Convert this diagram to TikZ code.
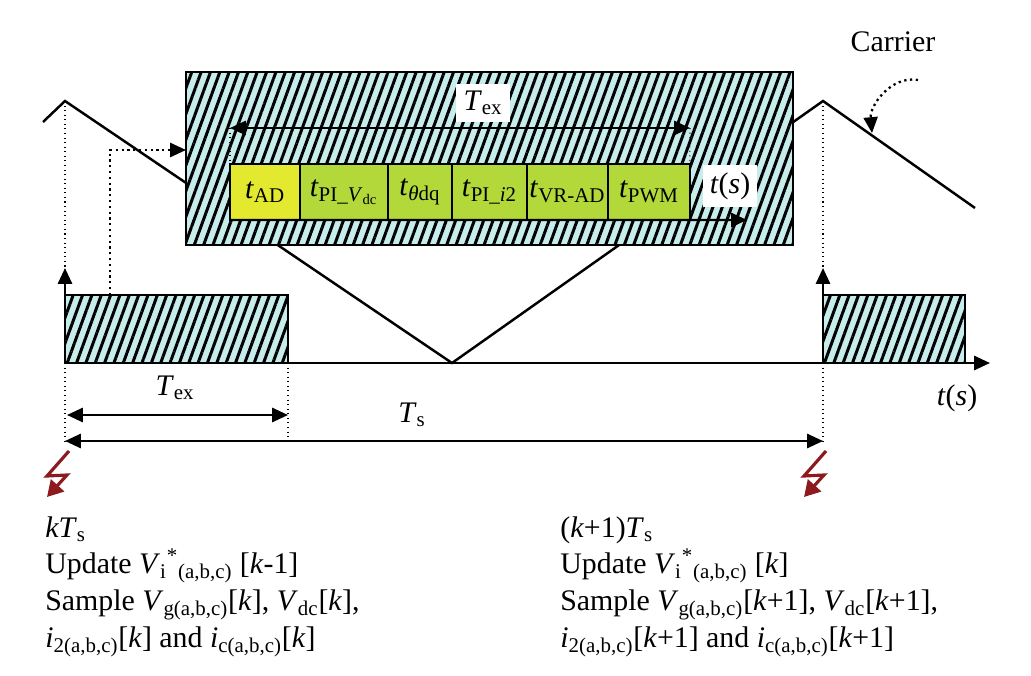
\documentclass[tikz,border=0pt]{standalone}
\usepackage{fontspec}
\setmainfont{Liberation Serif}
\usetikzlibrary{positioning,patterns.meta,arrows.meta}
\definecolor{hatchbg}{RGB}{199,236,236}
\definecolor{adyellow}{RGB}{227,233,46}
\definecolor{cellgreen}{RGB}{178,216,58}
\definecolor{boltred}{RGB}{140,26,30}
\newcommand{\sbs}[1]{\textsubscript{#1}}
\newcommand{\sps}[1]{\textsuperscript{#1}}
\tikzset{
  hatched/.style={draw=black, line width=1.3pt, preaction={fill=hatchbg},
    pattern={Lines[angle=70,distance=5pt,line width=1.7pt]}, pattern color=black},
  cell/.style={draw=black, line width=1.2pt, fill=cellgreen, minimum height=1.12cm,
    inner sep=0pt, outer sep=0pt, anchor=west},
  lbl/.style={fill=white, inner sep=4pt},
  thindot/.style={dotted, line width=0.6pt},
  thickdot/.style={dotted, line width=1.3pt},
  bolt/.style={draw=boltred, line width=1.8pt, -{Triangle[length=9pt,width=10pt]}, boltred},
}
\begin{document}
\begin{tikzpicture}[x=0.02cm, y=-0.02cm, >={Triangle[length=9pt,width=8pt]},
  font=\fontsize{17}{21}\selectfont]
\useasboundingbox (0,0) rectangle (1031,676);
% carrier
\node [] (c0) at (43,122) {};
\node [] (c1) at (65,101) {};
\node [] (c2) at (452,363) {};
\node [] (c3) at (823,101) {};
\node [] (c4) at (975,208) {};
\draw [line width=1.4pt] (c0.center) -- (c1.center) -- (c2.center) -- (c3.center) -- (c4.center);
\draw [thickdot, ->] (918,80) to [out=170, in=95] (872,133);
\node (carrier) at (893,42) {Carrier};

% zoomed execution window
\draw [hatched] (186,72) rectangle (793,245);
\node [cell, fill=adyellow, minimum width=1.4cm] (ad) at (230,192) {\textit{t}\sbs{AD}};
\node [cell, minimum width=1.76cm, right=0pt of ad] (piv) {\textit{t}\sbs{PI\_\textit{V}\sbs{dc}}};
\node [cell, minimum width=1.28cm, right=0pt of piv] (tdq) {\textit{t}\sbs{\textit{θ}dq}};
\node [cell, minimum width=1.5cm, right=0pt of tdq] (pii) {\textit{t}\sbs{PI\_\textit{i}2}};
\node [cell, minimum width=1.62cm, right=0pt of pii] (vrad) {\textit{t}\sbs{VR-AD}};
\node [cell, minimum width=1.64cm, right=0pt of vrad] (pwm) {\textit{t}\sbs{PWM}};
\coordinate (tend) at (747,220);
\draw [->, line width=1.4pt] (ad.south west) -- (tend);
\node [lbl] (ts1) at (730,186) {\textit{t}(\textit{s})};
\coordinate (xa) at (230,128);
\coordinate (xb) at (690,128);
\draw [thindot] (xa) -- (ad.north west);
\draw [thindot] (xb) -- (pwm.north east);
\draw [<->, line width=1.4pt] (xa) -- (xb);
\node [lbl] (tex1) at (483,103) {\textit{T}\sbs{ex}};

% time axis
\draw [hatched] (65,295) rectangle (288,363);
\draw [hatched] (823,295) rectangle (965,363);
\coordinate (o) at (65,363);
\coordinate (o2) at (823,363);
\coordinate (xend) at (990,363);
\coordinate (up1) at (65,268);
\coordinate (up2) at (823,268);
\draw [->, line width=1.4pt] (o) -- (xend);
\draw [->, line width=1.4pt] (o) -- (up1);
\draw [->, line width=1.4pt] (o2) -- (up2);
\node (ts2) at (957,398) {\textit{t}(\textit{s})};
\draw [thindot] (c1.center) -- (up1);
\draw [thindot] (c3.center) -- (up2);
\draw [thickdot, ->] (110,295) |- (186,150);

% dimensions
\coordinate (d0) at (65,441);
\coordinate (d1) at (823,441);
\coordinate (e1) at (288,415);
\draw [thindot] (o) -- (d0);
\draw [thindot] (o2) -- (d1);
\draw [thindot] (288,363) -- (288,437);
\draw [<->, line width=1.4pt] (67,415) -- (e1);
\node (tex2) at (175,388) {\textit{T}\sbs{ex}};
\draw [<->, line width=1.4pt] (d0) -- (d1);
\node (tsl) at (412,415) {\textit{T}\sbs{s}};

% sampling instants
\foreach \bx in {0,757}
  \draw [bolt] (69+\bx,451) -- (47+\bx,476) -- (67+\bx,475) -- (47+\bx,497);

\node [anchor=north west, align=left, inner sep=0pt] (ktext) at (45,516)
  {\textit{kT}\sbs{s}\\
   Update \textit{V}\sbs{i}\sps{*}\sbs{(a,b,c)} [\textit{k}-1]\\
   Sample \textit{V}\sbs{g(a,b,c)}[\textit{k}], \textit{V}\sbs{dc}[\textit{k}],\\
   \textit{i}\sbs{2(a,b,c)}[\textit{k}] and \textit{i}\sbs{c(a,b,c)}[\textit{k}]};
\node [anchor=north west, align=left, inner sep=0pt] (k1text) at (560,516)
  {(\textit{k}+1)\textit{T}\sbs{s}\\
   Update \textit{V}\sbs{i}\sps{*}\sbs{(a,b,c)} [\textit{k}]\\
   Sample \textit{V}\sbs{g(a,b,c)}[\textit{k}+1], \textit{V}\sbs{dc}[\textit{k}+1],\\
   \textit{i}\sbs{2(a,b,c)}[\textit{k}+1] and \textit{i}\sbs{c(a,b,c)}[\textit{k}+1]};
\end{tikzpicture}
\end{document}
